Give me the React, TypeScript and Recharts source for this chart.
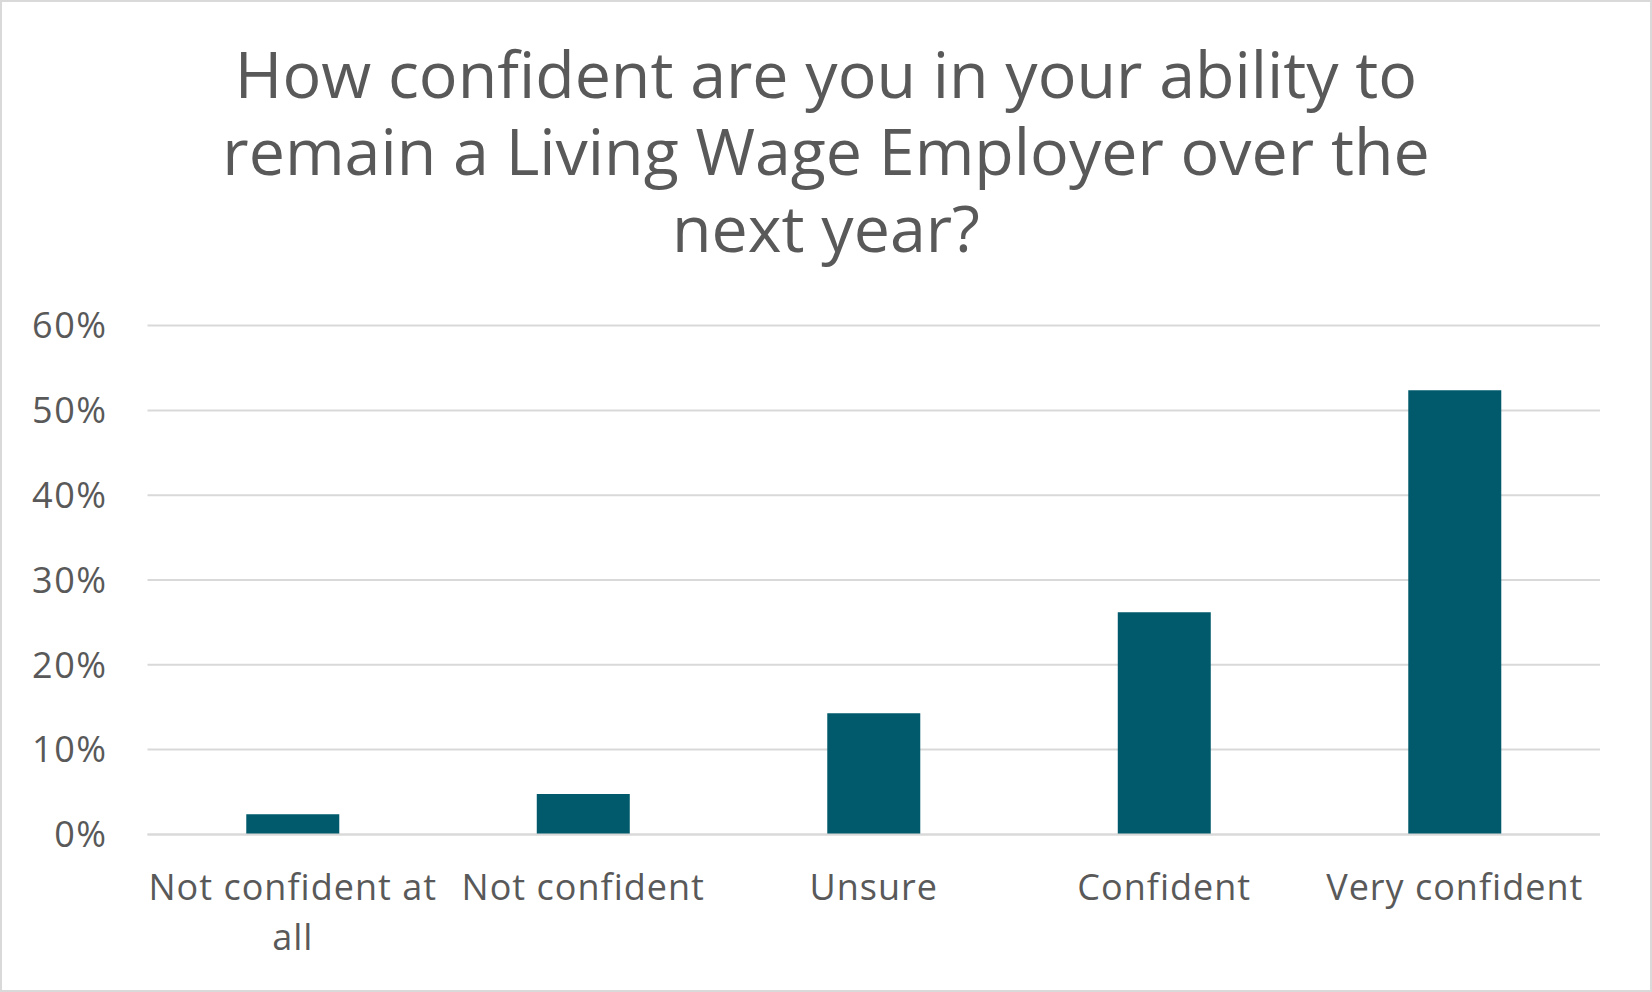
import React from "react";
import { BarChart, Bar, XAxis, YAxis, CartesianGrid } from "recharts";

const TITLE = "How confident are you in your ability to remain a Living Wage Employer over the next year?";
const categories = ["Not confident at all", "Not confident", "Unsure", "Confident", "Very confident"];
const shares = [0.0238, 0.0476, 0.1429, 0.2619, 0.5238];
const yTicks = [0, 0.1, 0.2, 0.3, 0.4, 0.5, 0.6];

const data = categories.map((c, i) => ({ category: c, value: shares[i] }));

const FONT = "'Open Sans', sans-serif";
const TEXT = "#595959";
const X_FS = 36;
const X_LS = 1;
const X_MAX = 295;

let ctx: CanvasRenderingContext2D | null = null;
function measure(s: string): number {
  if (!ctx) {
    const c = document.createElement("canvas");
    ctx = c.getContext("2d");
  }
  if (!ctx) return s.length * X_FS * 0.55;
  ctx.font = `${X_FS}px 'Open Sans'`;
  return ctx.measureText(s).width + s.length * X_LS;
}

function wrap(s: string): string[] {
  const words = s.split(" ");
  const lines: string[] = [];
  let cur = "";
  for (const w of words) {
    const t = cur ? cur + " " + w : w;
    if (cur && measure(t) > X_MAX) {
      lines.push(cur);
      cur = w;
    } else {
      cur = t;
    }
  }
  if (cur) lines.push(cur);
  return lines;
}

const XTick = (props: any) => {
  const { x, y, payload } = props;
  const lines = wrap(String(payload.value));
  return (
    <text
      x={x}
      y={y}
      textAnchor="middle"
      fill={TEXT}
      fontSize={X_FS}
      letterSpacing={X_LS}
      fontFamily={FONT}
    >
      {lines.map((l, i) => (
        <tspan key={i} x={x} dy={i === 0 ? "0.71em" : 50}>
          {l}
        </tspan>
      ))}
    </text>
  );
};

export default function App() {
  return (
    <div
      style={{
        position: "absolute",
        left: 0,
        top: 0,
        width: 1652,
        height: 992,
        boxSizing: "border-box",
        border: "2px solid #d9d9d9",
        background: "#fff",
        fontFamily: FONT,
      }}
    >
      <div
        style={{
          position: "absolute",
          left: 0,
          right: 0,
          top: 33,
          margin: "0 auto",
          width: 1290,
          textAlign: "center",
          fontSize: 64.5,
          lineHeight: "77px",
          color: TEXT,
        }}
      >
        {TITLE}
      </div>
      <div style={{ position: "absolute", left: -2, top: -2 }}>
        <BarChart
          width={1652}
          height={992}
          data={data}
          margin={{ top: 325.6, right: 52, bottom: 0, left: 0 }}
          barCategoryGap="34%"
        >
          <CartesianGrid vertical={false} stroke="#d9d9d9" strokeWidth={2} />
          <YAxis
            width={147.5}
            domain={[0, 0.6]}
            ticks={yTicks}
            tickFormatter={(v: number) => `${Math.round(v * 100)}%`}
            axisLine={false}
            tickLine={false}
            tickSize={0}
            tickMargin={40}
            tick={{ fill: TEXT, fontSize: 36, fontFamily: FONT, letterSpacing: 1.5 }}
          />
          <XAxis
            dataKey="category"
            height={157.6}
            axisLine={{ stroke: "#d9d9d9", strokeWidth: 2 }}
            tickLine={false}
            tickSize={0}
            tickMargin={40}
            interval={0}
            tick={<XTick />}
          />
          <Bar dataKey="value" fill="#005A6B" isAnimationActive={false} />
        </BarChart>
      </div>
    </div>
  );
}
